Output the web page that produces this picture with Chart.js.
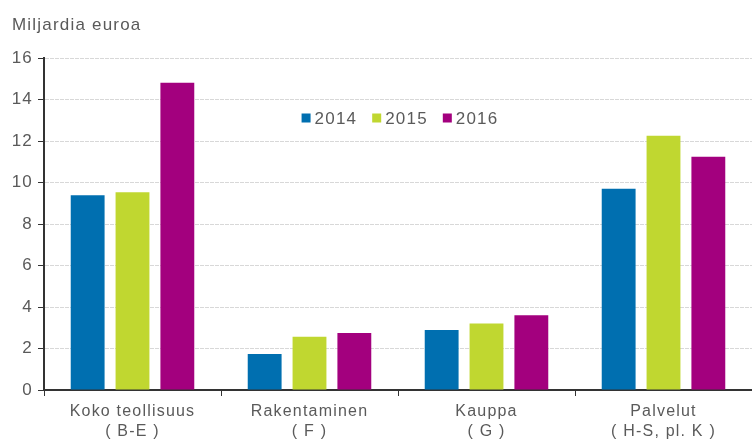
<!DOCTYPE html>
<html><head><meta charset="utf-8">
<script src="https://cdn.jsdelivr.net/npm/chart.js@4/dist/chart.umd.min.js"></script>
<style>html,body{margin:0;padding:0;background:#fff}#wrap{width:752px;height:443px}</style>
</head><body><div id="wrap"><canvas id="c" width="752" height="443"></canvas></div>
<script>
const categories = [['Koko teollisuus','( B-E )'],['Rakentaminen','( F )'],['Kauppa','( G )'],['Palvelut','( H-S, pl. K )']];
const seriesNames = ['2014','2015','2016'];
const values2014 = [9.38, 1.73, 2.89, 9.7];
const values2015 = [9.53, 2.57, 3.21, 12.25];
const values2016 = [14.81, 2.75, 3.6, 11.24];
const yTicks = [0,2,4,6,8,10,12,14,16];
const yTitle = 'Miljardia euroa';
const colors = ['#006fb0','#c0d730','#a3007e'];

const FONT = '"Liberation Sans", Arial, sans-serif';
const SPACING = '1.2px';
const TXT = '#5a5a5a';
Chart.defaults.font.family = FONT;

const spacingPlugin = {
  id: 'spacing',
  beforeLayout(c){ c.ctx.letterSpacing = SPACING; },
  beforeDraw(c){ c.ctx.letterSpacing = SPACING; }
};

const legendPlugin = {
  id: 'inlineLegend',
  afterDraw(chart){
    const ctx = chart.ctx, a = chart.chartArea;
    ctx.save();
    ctx.font = '17px ' + FONT;
    ctx.letterSpacing = SPACING;
    ctx.textBaseline = 'middle';
    ctx.textAlign = 'left';
    const box = 9, gap = 4, itemGap = 15;
    const items = chart.data.datasets.map(d => ({label: d.label, color: d.backgroundColor, w: ctx.measureText(d.label).width}));
    const total = items.reduce((s,i) => s + box + gap + i.w, 0) + itemGap * (items.length - 1);
    let x = (a.left + a.right) / 2 - total / 2 + 2;
    const y = a.top + 60;
    items.forEach(i => {
      ctx.fillStyle = i.color;
      ctx.fillRect(x, y - box/2, box, box);
      x += box + gap;
      ctx.fillStyle = TXT;
      ctx.fillText(i.label, x, y + 1);
      x += i.w + itemGap;
    });
    ctx.restore();
  }
};

const seriesValues = [values2014, values2015, values2016];

new Chart(document.getElementById('c'), {
  type: 'bar',
  data: {
    labels: categories,
    datasets: seriesNames.map((n, i) => ({
      label: n,
      data: seriesValues[i],
      backgroundColor: colors[i],
      borderWidth: 0,
      categoryPercentage: 0.76,
      barPercentage: 0.755
    }))
  },
  options: {
    responsive: false,
    animation: false,
    devicePixelRatio: 1,
    layout: {padding: {left: 12, right: 0, top: 0, bottom: 0}},
    plugins: {
      legend: {display: false},
      tooltip: {enabled: false},
      title: {
        display: true, text: yTitle, align: 'start', color: TXT,
        font: {size: 17, weight: 'normal', family: FONT, lineHeight: 1.2},
        padding: {top: 15, bottom: 22.6}
      }
    },
    scales: {
      x: {
        grid: {display: true, drawOnChartArea: false, drawTicks: true, tickLength: 6, tickColor: '#333', offset: true},
        border: {display: true, color: '#333', width: 2},
        ticks: {color: TXT, font: {size: 16, lineHeight: 1.25}, padding: 6, maxRotation: 0, autoSkip: false},
        afterFit(s){ s.height = 53; }
      },
      y: {
        min: 0, max: 16,
        afterBuildTicks(s){ s.ticks = yTicks.map(v => ({value: v})); },
        grid: {color: '#d8d8d8', lineWidth: 1, tickColor: '#333', tickLength: 6, drawTicks: true},
        border: {display: true, color: '#333', width: 2, dash: [4, 1]},
        ticks: {color: TXT, font: {size: 17}, padding: 5},
        afterFit(s){ s.width = 32; }
      }
    }
  },
  plugins: [spacingPlugin, legendPlugin]
});
</script>
</body></html>
